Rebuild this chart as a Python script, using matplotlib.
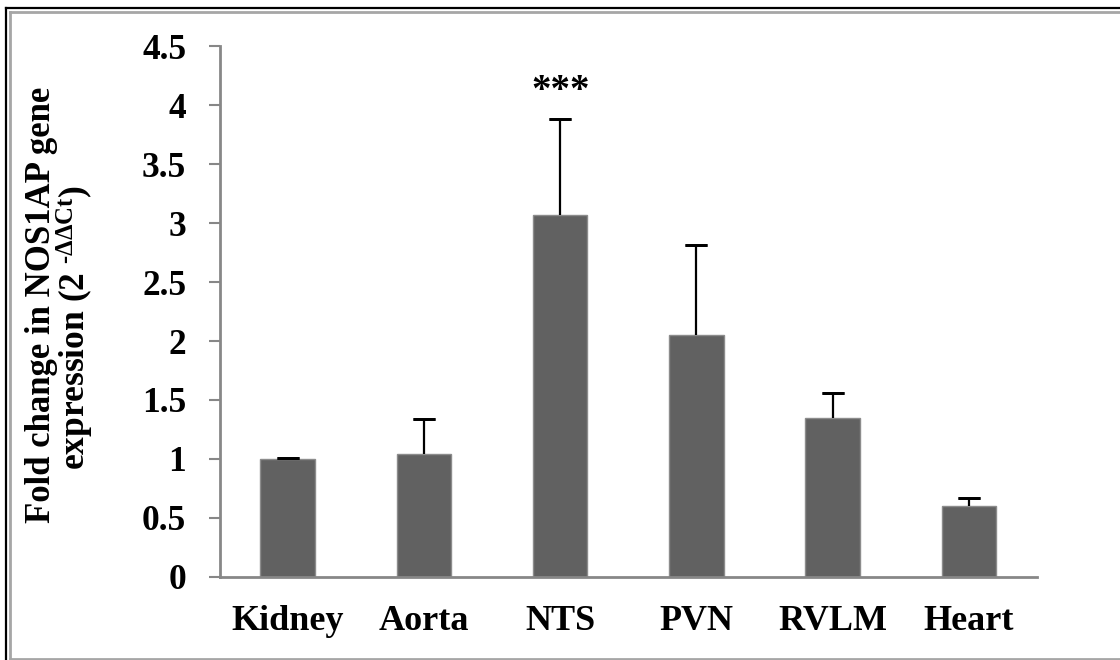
import matplotlib
matplotlib.use("Agg")
import matplotlib.pyplot as plt
from matplotlib.lines import Line2D

# tissues and NOS1AP fold change (mean, upper SEM)
tissues = ["Kidney", "Aorta", "NTS", "PVN", "RVLM", "Heart"]
fold_change = [1.00, 1.04, 3.07, 2.05, 1.35, 0.60]
sem = [0.005, 0.30, 0.81, 0.76, 0.21, 0.07]
signif = ["", "", "***", "", "", ""]

plt.rcParams["font.family"] = ["Liberation Serif", "DejaVu Serif"]
plt.rcParams["font.weight"] = "bold"
plt.rcParams["mathtext.fontset"] = "custom"
plt.rcParams["mathtext.rm"] = "Liberation Serif:bold"
plt.rcParams["mathtext.it"] = "Liberation Serif:bold"
plt.rcParams["mathtext.bf"] = "Liberation Serif:bold"

fig = plt.figure(figsize=(11.2, 6.6), dpi=100)
ax = fig.add_axes([0.196, 0.126, 0.730, 0.804])

x = list(range(len(tissues)))
ax.bar(x, fold_change, width=0.4, color="#616161", edgecolor="#8c8c8c", linewidth=1, zorder=2)

# upper error bars only (stem + cap)
tops = [m + e for m, e in zip(fold_change, sem)]
ax.vlines(x, fold_change, tops, color="black", linewidth=1.6, zorder=3)
ax.errorbar(x, tops, yerr=0, fmt="none", ecolor="black", capsize=8, capthick=2, zorder=3)

# significance stars above the error bars
for i, s in enumerate(signif):
    if s:
        ax.text(i, tops[i] + 0.08, s, ha="center", va="bottom",
                fontsize=28, fontweight="bold")

ax.set_xlim(-0.5, len(tissues) - 0.5)
ax.set_ylim(0, 4.5)
ax.set_yticks([0, 0.5, 1, 1.5, 2, 2.5, 3, 3.5, 4, 4.5])
ax.set_yticklabels(["0", "0.5", "1", "1.5", "2", "2.5", "3", "3.5", "4", "4.5"])
ax.set_xticks(x)
ax.set_xticklabels(tissues)

for side in ["top", "right"]:
    ax.spines[side].set_visible(False)
for side in ["left", "bottom"]:
    ax.spines[side].set_color("#878787")
    ax.spines[side].set_linewidth(2)

ax.tick_params(axis="y", direction="out", length=8, width=1.5, color="#878787",
               labelsize=25.5, pad=16)
ax.tick_params(axis="x", length=0, labelsize=26, pad=20)
for lab in ax.get_xticklabels() + ax.get_yticklabels():
    lab.set_fontweight("bold")

# two-line y label, placed by baseline
W, H = 1120, 660
fig.text(50 / W, 1 - 305 / H, "Fold change in NOS1AP gene", rotation=90,
         rotation_mode="anchor", ha="center", va="baseline", fontsize=25, fontweight="bold")
fig.text(86 / W, 1 - 327 / H, "expression (2 $^{\u2010ΔΔCt}$)", rotation=90,
         rotation_mode="anchor", ha="center", va="baseline", fontsize=25.5, fontweight="bold")

# frame around the figure
def fline(x0, y0, x1, y1, color, lw):
    fig.add_artist(Line2D([x0 / W, x1 / W], [1 - y0 / H, 1 - y1 / H],
                          transform=fig.transFigure, color=color, linewidth=lw))

fline(5.5, 7.5, 5.5, 660, "black", 1.6)
fline(5.5, 7.5, 1120, 7.5, "black", 1.6)
fline(9.5, 11.5, 9.5, 658, "#a6a6a6", 2)
fline(9.5, 11.5, 1120, 11.5, "#a6a6a6", 2)
fline(9.5, 658.5, 1120, 658.5, "#a6a6a6", 2)

fig.savefig("out.png", dpi=100)
